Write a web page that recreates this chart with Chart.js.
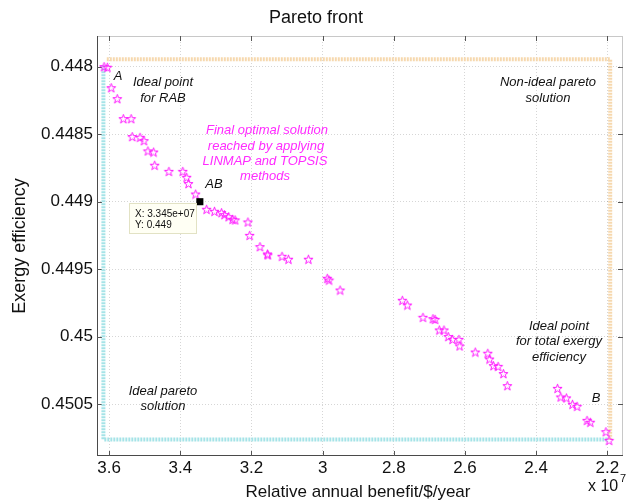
<!DOCTYPE html>
<html>
<head>
<meta charset="utf-8">
<script src="https://cdn.jsdelivr.net/npm/chart.js@4.4.1/dist/chart.umd.min.js"></script>
<style>
  html, body { margin: 0; padding: 0; background: #fff; }
  #c { display: block; }
</style>
</head>
<body>
<canvas id="c" width="629" height="503"></canvas>
<script>
// ---- data (x in units of 1e7 $/year) ----
const benefitX = [3.614, 3.605, 3.594, 3.577, 3.560, 3.538, 3.535, 3.513, 3.502, 3.491, 3.475, 3.472, 3.432, 3.393, 3.382, 3.377, 3.357, 3.326, 3.304, 3.284, 3.276, 3.264, 3.253, 3.246, 3.210, 3.205, 3.176, 3.155, 3.154, 3.114, 3.096, 3.040, 2.987, 2.982, 2.951, 2.776, 2.762, 2.718, 2.690, 2.684, 2.672, 2.659, 2.647, 2.635, 2.617, 2.615, 2.571, 2.536, 2.531, 2.520, 2.507, 2.492, 2.481, 2.340, 2.331, 2.315, 2.298, 2.285, 2.257, 2.248, 2.204, 2.195];
const exergyY = [0.448000, 0.448004, 0.448156, 0.448237, 0.448385, 0.448385, 0.448518, 0.448523, 0.448548, 0.448624, 0.448632, 0.448730, 0.448775, 0.448775, 0.448819, 0.448866, 0.448943, 0.449056, 0.449071, 0.449081, 0.449096, 0.449111, 0.449130, 0.449135, 0.449150, 0.449249, 0.449333, 0.449387, 0.449394, 0.449404, 0.449426, 0.449426, 0.449567, 0.449580, 0.449654, 0.449730, 0.449765, 0.449856, 0.449866, 0.449871, 0.449950, 0.449950, 0.449999, 0.450019, 0.450019, 0.450068, 0.450113, 0.450122, 0.450165, 0.450214, 0.450219, 0.450273, 0.450362, 0.450382, 0.450446, 0.450453, 0.450500, 0.450515, 0.450619, 0.450633, 0.450703, 0.450767];
const finalX = [3.345];
const finalY = [0.449];
const idealLineX = [3.616, 3.616, 2.197];
const idealLineY = [0.44799, 0.45076, 0.45076];
const nonIdealLineX = [3.6065, 2.192, 2.192];
const nonIdealLineY = [0.447945, 0.447945, 0.45077];
const xTickValues = [3.6, 3.4, 3.2, 3.0, 2.8, 2.6, 2.4, 2.2];
const xTickLabels = ["3.6", "3.4", "3.2", "3", "2.8", "2.6", "2.4", "2.2"];
const yTickValues = [0.448, 0.4485, 0.449, 0.4495, 0.45, 0.4505];
const yTickLabels = ["0.448", "0.4485", "0.449", "0.4495", "0.45", "0.4505"];

const FONT = '"Liberation Sans", Arial, Helvetica, sans-serif';

function zip(xs, ys) { return xs.map((x, i) => ({ x: x, y: ys[i] })); }

// pentagram marker
function makeStar() {
  const s = 11;
  const cv = document.createElement('canvas');
  cv.width = s; cv.height = s;
  const g = cv.getContext('2d');
  const cx = s / 2, cy = s / 2 + 0.5, R = 4.8, r = 1.9;
  g.beginPath();
  for (let i = 0; i < 10; i++) {
    const a = -Math.PI / 2 + i * Math.PI / 5;
    const rr = i % 2 === 0 ? R : r;
    const px = cx + rr * Math.cos(a), py = cy + rr * Math.sin(a);
    if (i === 0) g.moveTo(px, py); else g.lineTo(px, py);
  }
  g.closePath();
  g.strokeStyle = '#ff1aff';
  g.lineWidth = 1;
  g.stroke();
  return cv;
}
const starImg = makeStar();

const decor = {
  id: 'decor',
  beforeDatasetsDraw(chart) {
    const { ctx, chartArea: a } = chart;
    ctx.save();
    // frame
    ctx.lineWidth = 1;
    ctx.strokeStyle = '#c8c8c8';
    ctx.beginPath();
    ctx.moveTo(a.left, a.top + 0.5); ctx.lineTo(a.right, a.top + 0.5);
    ctx.moveTo(a.right - 0.5, a.top); ctx.lineTo(a.right - 0.5, a.bottom);
    ctx.stroke();
    ctx.strokeStyle = '#4a4a4a';
    ctx.beginPath();
    ctx.moveTo(a.left + 0.5, a.top); ctx.lineTo(a.left + 0.5, a.bottom);
    ctx.moveTo(a.left, a.bottom - 0.5); ctx.lineTo(a.right, a.bottom - 0.5);
    ctx.stroke();
    // inward ticks
    const xs = chart.scales.x, ys = chart.scales.y;
    ctx.strokeStyle = '#555';
    ctx.beginPath();
    xTickValues.forEach(v => {
      const px = Math.round(xs.getPixelForValue(v)) + 0.5;
      ctx.moveTo(px, a.bottom); ctx.lineTo(px, a.bottom - 5);
      ctx.moveTo(px, a.top); ctx.lineTo(px, a.top + 5);
    });
    yTickValues.forEach(v => {
      const py = Math.round(ys.getPixelForValue(v)) + 0.5;
      ctx.moveTo(a.left, py); ctx.lineTo(a.left + 5, py);
      ctx.moveTo(a.right, py); ctx.lineTo(a.right - 5, py);
    });
    ctx.stroke();
    ctx.restore();
  },
  afterDraw(chart) {
    const { ctx } = chart;
    ctx.save();
    ctx.fillStyle = '#111';
    ctx.textBaseline = 'middle';
    ctx.textAlign = 'center';
    // title
    ctx.font = '18px ' + FONT;
    ctx.fillText('Pareto front', 316, 18);
    // x title
    ctx.font = '17px ' + FONT;
    ctx.fillText('Relative annual benefit/$/year', 358, 492);
    // multiplier
    ctx.textAlign = 'left';
    ctx.font = '16px ' + FONT;
    ctx.fillText('x 10', 588, 487);
    ctx.font = '11px ' + FONT;
    ctx.fillText('7', 620, 479);
    // y title
    ctx.save();
    ctx.translate(20, 246);
    ctx.rotate(-Math.PI / 2);
    ctx.textAlign = 'center';
    ctx.font = '18px ' + FONT;
    ctx.fillText('Exergy efficiency', 0, 0);
    ctx.restore();

    // annotations
    ctx.textAlign = 'center';
    ctx.font = 'italic 13px ' + FONT;
    ctx.fillStyle = '#111';
    ctx.fillText('A', 118, 76);
    ctx.fillText('Ideal point', 163, 82);
    ctx.fillText('for RAB', 163, 98);
    ctx.fillText('AB', 214, 184);
    ctx.fillText('Non-ideal pareto', 548, 82);
    ctx.fillText('solution', 548, 98);
    ctx.fillText('Ideal point', 559, 326);
    ctx.fillText('for total exergy', 559, 341);
    ctx.fillText('efficiency', 559, 357);
    ctx.fillText('B', 596, 398);
    ctx.fillText('Ideal pareto', 163, 391);
    ctx.fillText('solution', 163, 406);
    ctx.fillStyle = '#ff2bff';
    ctx.fillText('Final optimal solution', 267, 130);
    ctx.fillText('reached by applying', 266, 146);
    ctx.fillText('LINMAP and TOPSIS', 265, 161);
    ctx.fillText('methods', 265, 176);

    // data tip
    ctx.fillStyle = '#fffff4';
    ctx.strokeStyle = '#e2e2c4';
    ctx.lineWidth = 1;
    ctx.fillRect(129.5, 203.5, 67, 30);
    ctx.strokeRect(129.5, 203.5, 67, 30);
    ctx.fillStyle = '#111';
    ctx.textAlign = 'left';
    ctx.font = '10px ' + FONT;
    ctx.fillText('X: 3.345e+07', 135, 214);
    ctx.fillText('Y: 0.449', 135, 225);
    ctx.restore();
  }
};

new Chart(document.getElementById('c'), {
  type: 'scatter',
  data: {
    datasets: [
      {
        label: 'Pareto front',
        data: zip(benefitX, exergyY),
        pointStyle: starImg,
        pointRadius: 5,
        order: 1
      },
      {
        label: 'Final optimal',
        data: zip(finalX, finalY),
        pointStyle: 'rect',
        pointRadius: 5,
        backgroundColor: '#000',
        borderColor: '#000',
        borderWidth: 0,
        order: 0
      },
      {
        label: 'Ideal pareto solution',
        data: zip(idealLineX, idealLineY),
        showLine: true,
        pointRadius: 0,
        borderColor: 'rgba(160,226,230,0.95)',
        borderWidth: 4,
        borderDash: [2, 1],
        fill: false,
        order: 3
      },
      {
        label: 'Non-ideal pareto solution',
        data: zip(nonIdealLineX, nonIdealLineY),
        showLine: true,
        pointRadius: 0,
        borderColor: 'rgba(246,214,170,0.95)',
        borderWidth: 4,
        borderDash: [2, 1],
        fill: false,
        order: 3
      }
    ]
  },
  options: {
    responsive: false,
    devicePixelRatio: 1,
    animation: false,
    layout: { padding: { top: 36, right: 5, left: 0, bottom: 0 } },
    plugins: {
      legend: { display: false },
      title: { display: false },
      tooltip: { enabled: false }
    },
    scales: {
      x: {
        type: 'linear',
        reverse: true,
        min: 2.156,
        max: 3.634,
        afterBuildTicks: s => { s.ticks = xTickValues.map(v => ({ value: v })); },
        afterFit: s => { s.height = 47; },
        grid: { color: 'rgba(0,0,0,0.16)', drawTicks: false },
        border: { display: false, dash: [1, 2] },
        ticks: {
          padding: 2,
          color: '#111',
          font: { family: FONT, size: 17 },
          callback: v => { const i = xTickValues.findIndex(t => Math.abs(t - v) < 1e-9); return i >= 0 ? xTickLabels[i] : ''; }
        }
      },
      y: {
        type: 'linear',
        reverse: true,
        min: 0.447773,
        max: 0.450883,
        afterBuildTicks: s => { s.ticks = yTickValues.map(v => ({ value: v })); },
        afterFit: s => { s.width = 97; },
        grid: { color: 'rgba(0,0,0,0.16)', drawTicks: false },
        border: { display: false, dash: [1, 2] },
        ticks: {
          padding: 4,
          color: '#111',
          font: { family: FONT, size: 17 },
          callback: v => { const i = yTickValues.findIndex(t => Math.abs(t - v) < 1e-12); return i >= 0 ? yTickLabels[i] : ''; }
        }
      }
    }
  },
  plugins: [decor]
});
</script>
</body>
</html>
